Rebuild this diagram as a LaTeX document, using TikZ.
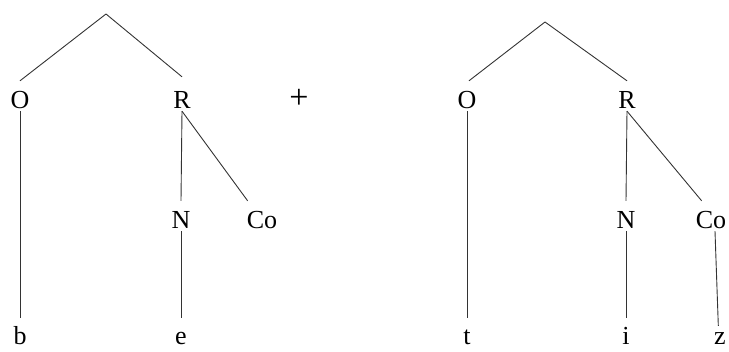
\documentclass[tikz,border=0pt]{standalone}
\usepackage{fontspec}
\setmainfont{Liberation Serif}

\begin{document}
\begin{tikzpicture}[x=1pt,y=-1pt]
    \tikzset{seg/.style={anchor=base,inner sep=2pt,text height=26pt,text depth=0pt,font=\fontsize{26}{31}\selectfont},
             branch/.style={draw=black!80,line width=0.9pt}}
    \useasboundingbox (0,0) rectangle (729,352);
    % first syllable
    \coordinate (top1) at (106,14);
    \node[seg] (O1) at (20,109) {O};
    \node[seg] (R1) at (182,109) {R};
    \node[seg] (N1) at (181,229) {N};
    \node[seg] (Co1) at (262,229) {Co};
    \node[seg] (b) at (20,345) {b};
    \node[seg] (e) at (181,345) {e};
    \node[anchor=base,inner sep=0pt,font=\fontsize{34}{38}\selectfont] (plus) at (299,109) {+};
    % second syllable
    \coordinate (top2) at (545,22);
    \node[seg] (O2) at (467,109) {O};
    \node[seg] (R2) at (627,109) {R};
    \node[seg] (N2) at (626,229) {N};
    \node[seg] (Co2) at (711,229) {Co};
    \node[seg] (t) at (467,345) {t};
    \node[seg] (i) at (626,345) {i};
    \node[seg] (z) at (720,345) {z};
    \draw[branch] (top1) -- (O1.north);
    \draw[branch] (top1) -- ([yshift=4pt]R1.north);
    \draw[branch] (O1.south) -- ([yshift=-1pt]b.north);
    \draw[branch] (R1.south) -- (N1.north);
    \draw[branch] (R1.south) -- ([xshift=3pt]Co1.north west);
    \draw[branch] (N1.south) -- ([yshift=-1pt]e.north);
    \draw[branch] (top2) -- ([xshift=2pt]O2.north);
    \draw[branch] (top2) -- (R2.north);
    \draw[branch] (O2.south) -- ([yshift=-1pt]t.north);
    \draw[branch] (R2.south) -- (N2.north);
    \draw[branch] (R2.south) -- ([xshift=8pt]Co2.north west);
    \draw[branch] (N2.south) -- ([yshift=-1pt]i.north);
    \draw[branch,shorten >=-9pt] ([xshift=4pt]Co2.south) -- ([xshift=-2pt]z.north);
\end{tikzpicture}
\end{document}
